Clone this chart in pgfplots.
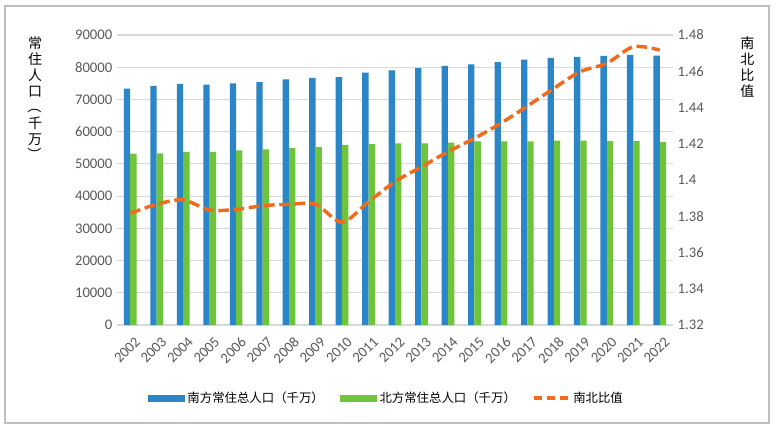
\documentclass[border=0pt]{standalone}
\usepackage{pgfplots}
\pgfplotsset{compat=1.18}
\usepackage{pgfplotstable}
\usepackage{graphicx}
\usepackage{fontspec}
\setmainfont{Carlito}
\newfontfamily\cjk{Noto Sans CJK SC}
\definecolor{sblue}{HTML}{2A86C6}
\definecolor{ngreen}{HTML}{6EC43A}
\definecolor{rorange}{HTML}{F26B1D}
\definecolor{tickgray}{HTML}{595959}
\definecolor{gridgray}{HTML}{D9D9D9}
\definecolor{framegray}{HTML}{BFBFBF}
\pgfplotstableread{
idx south north ratio
0 73400 53200 1.3816
1 74200 53300 1.3866
2 74800 53700 1.3890
3 74600 53700 1.3834
4 75000 54200 1.3838
5 75400 54500 1.3858
6 76200 54900 1.3866
7 76700 55200 1.3866
8 76900 55800 1.3767
9 78300 56100 1.3880
10 79000 56400 1.3991
11 79700 56400 1.4073
12 80400 56600 1.4156
13 80900 57000 1.4230
14 81600 57000 1.4313
15 82400 57000 1.4408
16 82900 57200 1.4506
17 83200 57200 1.4598
18 83500 57100 1.4644
19 83800 57100 1.4735
20 83600 56800 1.4717
}\datatable
\begin{document}
\begin{tikzpicture}
\path (0,0) rectangle (584.25pt,322.5pt);
\draw[framegray, line width=0.8pt] (3.75pt,5.25pt) rectangle (576.75pt,318pt);
\begin{axis}[
  scale only axis, width=417pt, height=217.5pt,
  at={(87.75pt,78.75pt)}, anchor=south west,
  xmin=-0.5, xmax=20.5, ymin=0, ymax=90000,
  xtick={0,...,20},
  xticklabels={2002,2003,2004,2005,2006,2007,2008,2009,2010,2011,2012,2013,2014,2015,2016,2017,2018,2019,2020,2021,2022},
  x tick label style={yshift=-8pt, xshift=3pt, rotate=45, anchor=north east, inner sep=0pt},
  ytick={0,10000,...,90000},
  scaled y ticks=false,
  /pgf/number format/1000 sep={},
  /pgf/number format/assume math mode=true,
  tick label style={font=\fontsize{11}{13}\selectfont, text=tickgray},
  major tick length=0pt,
  axis line style={draw=none},
  ymajorgrids, grid style={gridgray, line width=0.8pt},
  ybar, bar width=0.24,
  legend style={draw=none, fill=none, at={(0.485,-0.252)}, anchor=center,
    font=\cjk\fontsize{9.3}{11}\selectfont, text=black,
    /tikz/every even column/.append style={column sep=10pt}},
  legend columns=3,
]
\addplot[draw=none, fill=sblue, bar shift=-0.12,
  legend image code/.code={\fill[sblue] (0pt,-2.6pt) rectangle (27.75pt,2.6pt);}]
  table[x=idx, y=south] {\datatable};
\addlegendentry{南方常住总人口（千万）}
\addplot[draw=none, fill=ngreen, bar shift=0.12,
  legend image code/.code={\fill[ngreen] (0pt,-2.6pt) rectangle (27.75pt,2.6pt);}]
  table[x=idx, y=north] {\datatable};
\addlegendentry{北方常住总人口（千万）}
\addlegendimage{legend image code/.code={\draw[rorange, line width=3.5pt, dash pattern=on 6pt off 3.5pt] (0pt,0pt) -- (25.5pt,0pt);}}
\addlegendentry{南北比值}
\end{axis}
\begin{axis}[
  scale only axis, width=417pt, height=217.5pt,
  at={(87.75pt,78.75pt)}, anchor=south west,
  xmin=-0.5, xmax=20.5, ymin=1.32, ymax=1.48,
  axis x line=none,
  axis y line*=right,
  ytick={1.32,1.34,...,1.481},
  yticklabel={\pgfmathparse{round(\tick*100)/100}\pgfmathprintnumber{\pgfmathresult}},
  /pgf/number format/assume math mode=true,
  tick label style={font=\fontsize{11}{13}\selectfont, text=tickgray},
  major tick length=0pt,
  axis line style={draw=none},
]
\addplot[rorange, line width=2.6pt, dash pattern=on 8pt off 3.5pt, smooth, tension=0.5, no markers]
  table[x=idx, y=ratio] {\datatable};
\end{axis}
\node[font=\cjk\fontsize{10.5}{12}\selectfont, align=center, anchor=north, inner sep=0pt] at (26.25pt,295.5pt)
  {常\\住\\人\\口\\\rotatebox[origin=c]{-90}{（}\\千\\万\\\rotatebox[origin=c]{-90}{）}};
\node[font=\cjk\fontsize{10.5}{12}\selectfont, align=center, anchor=north, inner sep=0pt] at (560.6pt,295.5pt)
  {南\\北\\比\\值};
\end{tikzpicture}
\end{document}
